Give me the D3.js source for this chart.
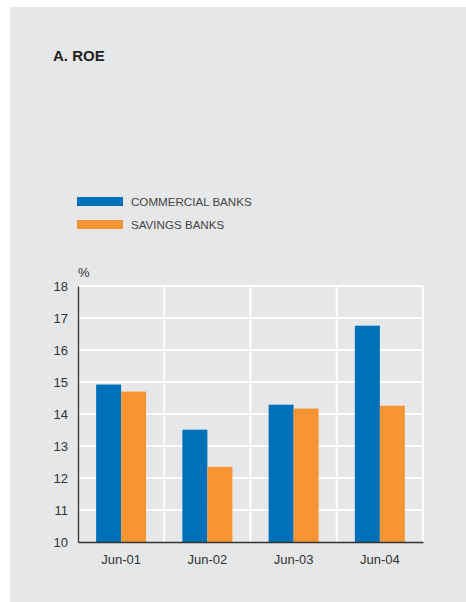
<!DOCTYPE html>
<html>
<head>
<meta charset="utf-8">
<script src="https://cdn.jsdelivr.net/npm/d3@7"></script>
<style>
  body { margin: 0; background: #fff; font-family: "Liberation Sans", Arial, sans-serif; }
</style>
</head>
<body>
<div id="chart"></div>
<script>
let categories = ["Jun-01", "Jun-02", "Jun-03", "Jun-04"];
let commercial = [14.92, 13.51, 14.29, 16.76];
let savings = [14.70, 12.35, 14.17, 14.26];
let seriesNames = ["COMMERCIAL BANKS", "SAVINGS BANKS"];
let yTicks = [10, 11, 12, 13, 14, 15, 16, 17, 18];

let colors = ["#0070b9", "#f79433"];

let W = 466, H = 602;
let margin = { top: 286, left: 78, right: 43, bottom: 60 };
let width = W - margin.left - margin.right,
    height = H - margin.top - margin.bottom;

let svg = d3.select("#chart").append("svg")
    .attr("width", W)
    .attr("height", H);

// panel background
svg.append("rect")
    .attr("x", 10).attr("y", 7)
    .attr("width", W - 10).attr("height", H - 7)
    .style("fill", "#e6e7e8");

svg.append("text")
    .attr("x", 53).attr("y", 61)
    .style("font-size", "15px")
    .style("font-weight", "bold")
    .style("fill", "#222")
    .text("A. ROE");

// legend
let legend = svg.append("g").attr("transform", "translate(77,197)");
seriesNames.forEach(function (name, i) {
    legend.append("rect")
        .attr("x", 0).attr("y", i * 23)
        .attr("width", 46).attr("height", 9)
        .style("fill", colors[i]);
    legend.append("text")
        .attr("x", 54).attr("y", i * 23 + 9)
        .style("font-size", "11.6px")
        .style("fill", "#444")
        .text(name);
});

let g = svg.append("g")
    .attr("transform", "translate(" + margin.left + "," + margin.top + ")");

let x0 = d3.scaleBand()
    .domain(categories)
    .range([0, width]);

let x1 = d3.scaleBand()
    .domain([0, 1])
    .range([0, 50]);

let y = d3.scaleLinear()
    .domain([10, 18])
    .range([height, 0]);

// grid
g.selectAll(".hgrid")
    .data(yTicks.slice(1))
    .enter().append("line")
    .attr("x1", 0).attr("x2", width)
    .attr("y1", d => y(d)).attr("y2", d => y(d))
    .style("stroke", "#fff").style("stroke-width", 2);

g.selectAll(".vgrid")
    .data(categories)
    .enter().append("line")
    .attr("x1", d => x0(d) + x0.bandwidth()).attr("x2", d => x0(d) + x0.bandwidth())
    .attr("y1", 0).attr("y2", height)
    .style("stroke", "#fff").style("stroke-width", 2);

// bars
let groups = g.selectAll(".grp")
    .data(categories)
    .enter().append("g")
    .attr("transform", d => "translate(" + (x0(d) + x0.bandwidth() / 2 - 25) + ",0)");

groups.selectAll("rect")
    .data((d, i) => [commercial[i], savings[i]])
    .enter().append("rect")
    .attr("x", (d, i) => x1(i))
    .attr("width", x1.bandwidth())
    .attr("y", d => y(d))
    .attr("height", d => height - y(d))
    .style("fill", (d, i) => colors[i]);

// axes
let yAxis = d3.axisLeft(y).tickValues(yTicks).tickSize(0).tickPadding(10);
let ya = g.append("g").call(yAxis);
ya.select(".domain").style("stroke", "#333").style("stroke-width", 1.3);
ya.selectAll("text")
    .style("font-family", "'Liberation Sans', Arial, sans-serif")
    .style("font-size", "13px")
    .style("fill", "#333");

let xAxis = d3.axisBottom(x0).tickSize(0).tickPadding(13);
let xa = g.append("g").attr("transform", "translate(0," + height + ")").call(xAxis);
xa.select(".domain").style("stroke", "#333").style("stroke-width", 1.3);
xa.selectAll("text")
    .style("font-family", "'Liberation Sans', Arial, sans-serif")
    .style("font-size", "13px")
    .style("fill", "#333");

svg.append("text")
    .attr("x", 78).attr("y", 277)
    .style("font-size", "13px")
    .style("fill", "#333")
    .text("%");
</script>
</body>
</html>
